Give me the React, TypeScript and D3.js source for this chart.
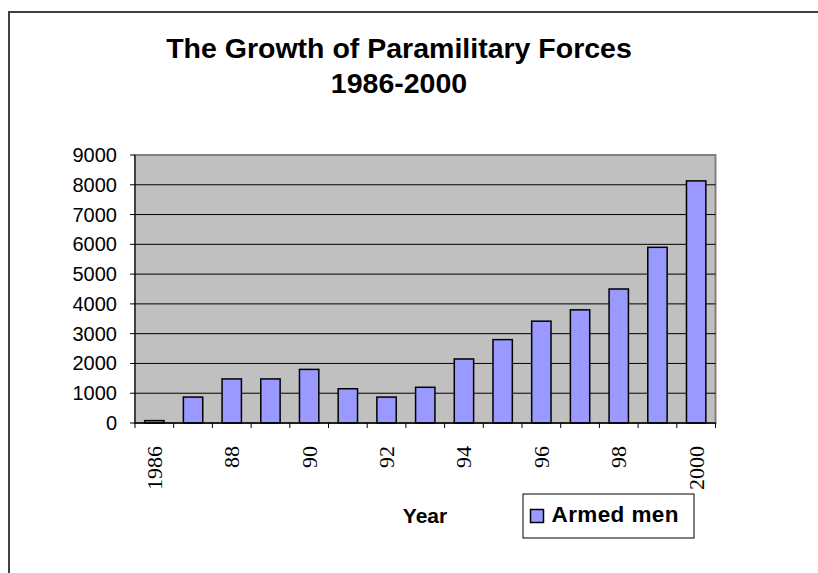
import React from "react";
import * as d3 from "d3";

// chart data
const years = ["1986", "1987", "1988", "1989", "1990", "1991", "1992", "1993", "1994", "1995", "1996", "1997", "1998", "1999", "2000"];
const armedMen = [80, 870, 1480, 1480, 1800, 1150, 870, 1200, 2150, 2800, 3420, 3800, 4500, 5900, 8130];
const yTicks = [0, 1000, 2000, 3000, 4000, 5000, 6000, 7000, 8000, 9000];
const yearLabels = ["1986", "88", "90", "92", "94", "96", "98", "2000"];

const titleLines = ["The Growth of Paramilitary Forces", "1986-2000"];
const xTitle = "Year";
const seriesName = "Armed men";

const W = 818;
const H = 573;
const plot = { left: 135, right: 715.5, top: 155, bottom: 423 };
const sans = "Arial, 'Liberation Sans', sans-serif";
const serif = "'Times New Roman', 'Liberation Serif', serif";

export default function App() {
  const x = d3
    .scaleBand<string>()
    .domain(years)
    .range([plot.left, plot.right])
    .paddingInner(0.5)
    .paddingOuter(0.25);
  const step = x.step();
  const y = d3.scaleLinear().domain([0, 9000]).range([plot.bottom, plot.top]);

  // category boundaries for the tick marks
  const bounds = d3.range(years.length + 1).map((i) => plot.left + i * step);

  return (
    <svg
      width={W}
      height={H}
      style={{ position: "absolute", left: 0, top: 0, background: "#fff" }}
    >
      {/* outer chart border */}
      <rect x={9} y={12} width={W + 20} height={H + 20} fill="#fff" stroke="#404040" strokeWidth={2} />

      {/* title */}
      {titleLines.map((t, i) => (
        <text
          key={t}
          x={399}
          y={57.5 + i * 35}
          textAnchor="middle"
          fontFamily={sans}
          fontWeight="bold"
          fontSize={28.5}
          fill="#000"
        >
          {t}
        </text>
      ))}

      {/* plot area */}
      <rect
        x={plot.left}
        y={plot.top}
        width={plot.right - plot.left}
        height={plot.bottom - plot.top}
        fill="#C0C0C0"
        stroke="#808080"
        strokeWidth={2}
      />

      {/* gridlines */}
      {yTicks
        .filter((v) => v > 0 && v < 9000)
        .map((v) => (
          <line key={v} x1={plot.left} x2={plot.right} y1={y(v)} y2={y(v)} stroke="#000" strokeWidth={1} />
        ))}

      {/* bars */}
      {armedMen.map((v, i) => (
        <rect
          key={years[i]}
          x={x(years[i])}
          y={y(v)}
          width={x.bandwidth()}
          height={y(0) - y(v)}
          fill="#9999FF"
          stroke="#000"
          strokeWidth={1.5}
        />
      ))}

      {/* y axis */}
      <line x1={plot.left} x2={plot.left} y1={plot.top} y2={plot.bottom} stroke="#000" strokeWidth={1} />
      {yTicks.map((v) => (
        <g key={v}>
          <line x1={plot.left - 5} x2={plot.left} y1={y(v)} y2={y(v)} stroke="#000" />
          <text
            x={117}
            y={y(v) + 7}
            textAnchor="end"
            fontFamily={sans}
            fontSize={20}
            fill="#000"
          >
            {v}
          </text>
        </g>
      ))}

      {/* x axis */}
      <line x1={plot.left} x2={plot.right} y1={plot.bottom} y2={plot.bottom} stroke="#000" strokeWidth={1.5} />
      {bounds.map((b, i) => (
        <line key={i} x1={b} x2={b} y1={plot.bottom} y2={plot.bottom + 5} stroke="#000" />
      ))}
      {yearLabels.map((lab, i) => {
        const cx = (x(years[i * 2]) as number) + x.bandwidth() / 2;
        return (
          <text
            key={lab}
            transform={`translate(${cx + 7.5},${446}) rotate(-90)`}
            textAnchor="end"
            fontFamily={serif}
            fontSize={22}
            fill="#000"
          >
            {lab}
          </text>
        );
      })}

      {/* x axis title */}
      <text
        x={425}
        y={523}
        textAnchor="middle"
        fontFamily={sans}
        fontWeight="bold"
        fontSize={21}
        fill="#000"
      >
        {xTitle}
      </text>

      {/* legend */}
      <rect x={523} y={494} width={171} height={44} fill="#fff" stroke="#000" strokeWidth={1} />
      <rect x={530.5} y={509.5} width={13} height={13} fill="#9999FF" stroke="#000" strokeWidth={1.5} />
      <text
        x={551.5}
        y={521.5}
        fontFamily={sans}
        fontWeight="bold"
        fontSize={22.5}
        letterSpacing={0.4}
        fill="#000"
      >
        {seriesName}
      </text>
    </svg>
  );
}
